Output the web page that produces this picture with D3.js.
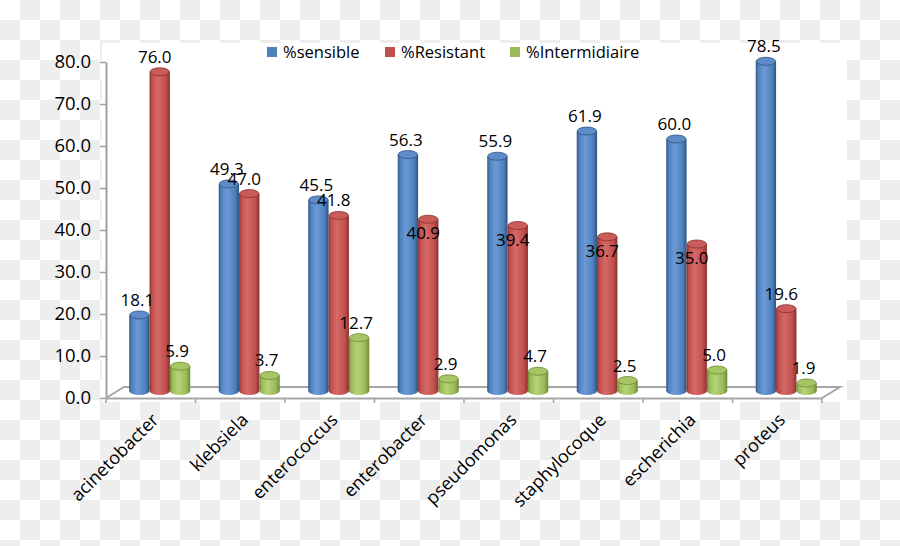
<!DOCTYPE html>
<html>
<head>
<meta charset="utf-8">
<script src="https://cdn.jsdelivr.net/npm/d3@7"></script>
<style>
  body { margin: 0; }
  svg { display: block; font-family: 'Open Sans', sans-serif; }
</style>
</head>
<body>
<svg id="chart" width="900" height="546"></svg>
<script>
const categories = ['acinetobacter', 'klebsiela', 'enterococcus', 'enterobacter', 'pseudomonas', 'staphylocoque', 'escherichia', 'proteus'];
const seriesNames = ['%sensible', '%Resistant', '%Intermidiaire'];
const sensible = [18.1, 49.3, 45.5, 56.3, 55.9, 61.9, 60.0, 78.5];
const resistant = [76.0, 47.0, 41.8, 40.9, 39.4, 36.7, 35.0, 19.6];
const intermediaire = [5.9, 3.7, 12.7, 2.9, 4.7, 2.5, 5.0, 1.9];
const yTicks = [0, 10, 20, 30, 40, 50, 60, 70, 80];

// the reference drops a few %Resistant labels onto the bar itself
const resistantLabelDrop = [0, 0, 0, 29, 29, 29, 29, 0];
const labelShiftX = [-2, -5, -3];

const colors = [
    { base: '#4f81bd', dark: '#2f5383', light: '#6c9ad6', top: '#5d8cc8' },
    { base: '#c0504d', dark: '#8c302e', light: '#d66a67', top: '#c95c59' },
    { base: '#9bbb59', dark: '#6d8a34', light: '#b4d477', top: '#a6c664' }
];

const svg = d3.select('#chart');

// checkerboard background
const defs = svg.append('defs');
const pat = defs.append('pattern')
    .attr('id', 'checker')
    .attr('width', 40).attr('height', 40)
    .attr('patternUnits', 'userSpaceOnUse');
pat.append('rect').attr('width', 40).attr('height', 40).attr('fill', '#ffffff');
pat.append('rect').attr('x', 20).attr('y', 0).attr('width', 20).attr('height', 20).attr('fill', '#eeeeee');
pat.append('rect').attr('x', 0).attr('y', 20).attr('width', 20).attr('height', 20).attr('fill', '#eeeeee');
svg.append('rect').attr('width', 900).attr('height', 546).attr('fill', 'url(#checker)');

// cylinder gradients
colors.forEach((c, i) => {
    const g = defs.append('linearGradient').attr('id', 'cyl' + i)
        .attr('x1', '0%').attr('x2', '100%').attr('y1', '0%').attr('y2', '0%');
    g.append('stop').attr('offset', '0%').attr('stop-color', c.dark);
    g.append('stop').attr('offset', '12%').attr('stop-color', c.base);
    g.append('stop').attr('offset', '40%').attr('stop-color', c.light);
    g.append('stop').attr('offset', '80%').attr('stop-color', c.base);
    g.append('stop').attr('offset', '100%').attr('stop-color', c.dark);
});

// plot area
svg.append('rect')
    .attr('x', 102).attr('y', 43)
    .attr('width', 745).attr('height', 359)
    .attr('fill', '#ffffff');

const x0 = 106, x1 = 822;
const depthX = 18, depthY = -11;

const xScale = d3.scaleBand()
    .domain(categories)
    .range([x0, x1]);

const xSub = d3.scaleBand()
    .domain(seriesNames)
    .range([0, xScale.bandwidth()])
    .paddingOuter(0.7);

const yScale = d3.scaleLinear()
    .domain([0, 80])
    .range([398, 62]);

// floor
const floorColor = '#a6a6a6';
const floor = svg.append('g').attr('stroke', floorColor).attr('stroke-width', 2).attr('fill', 'none');
floor.append('path')
    .attr('d', `M${x0},${yScale(0)} L${x0 + depthX},${yScale(0) + depthY} L${x1 + depthX},${yScale(0) + depthY} L${x1},${yScale(0)}`);

// y axis
const yAxis = svg.append('g')
    .attr('transform', `translate(${x0},0)`)
    .call(d3.axisLeft(yScale).tickValues(yTicks).tickFormat(d3.format('.1f')).tickSize(6).tickSizeOuter(0).tickPadding(9));
yAxis.select('.domain').attr('stroke', '#a0a0a0').attr('stroke-width', 2);
yAxis.selectAll('.tick line').attr('stroke', '#a0a0a0').attr('stroke-width', 1.5);
yAxis.selectAll('.tick text')
    .attr('font-family', "'Open Sans', sans-serif")
    .attr('font-size', 18.5)
    .attr('fill', '#000');

// x axis
const xAxis = svg.append('g')
    .attr('transform', `translate(0,${yScale(0)})`)
    .call(d3.axisBottom(xScale).tickSize(0).tickFormat(''));
xAxis.select('.domain').attr('stroke', '#a6a6a6').attr('stroke-width', 2);
const boundaries = categories.map((c, i) => i).concat([categories.length]);
xAxis.selectAll('.bound')
    .data(boundaries)
    .enter()
    .append('line')
    .attr('x1', d => x0 + d * xScale.step())
    .attr('x2', d => x0 + d * xScale.step())
    .attr('y1', 0).attr('y2', 5)
    .attr('stroke', '#a6a6a6').attr('stroke-width', 1.5);

// bars
const barShiftX = 9, barShiftY = -7;
const rows = [];
categories.forEach((cat, i) => {
    [sensible, resistant, intermediaire].forEach((arr, s) => {
        rows.push({ cat, i, s, value: arr[i] });
    });
});

const bw = xSub.bandwidth();
const ry = 4;
const bars = svg.append('g').selectAll('.bar')
    .data(rows)
    .enter()
    .append('g')
    .attr('class', 'bar');

bars.each(function (d) {
    const g = d3.select(this);
    const left = xScale(d.cat) + xSub(seriesNames[d.s]) + barShiftX;
    const cx = left + bw / 2;
    const yb = yScale(0) + barShiftY;
    const yt = yScale(d.value) + barShiftY;
    const c = colors[d.s];
    g.append('ellipse')
        .attr('cx', cx).attr('cy', yb)
        .attr('rx', bw / 2).attr('ry', ry)
        .attr('fill', `url(#cyl${d.s})`);
    g.append('rect')
        .attr('x', left).attr('y', yt)
        .attr('width', bw).attr('height', yb - yt)
        .attr('fill', `url(#cyl${d.s})`);
    g.append('ellipse')
        .attr('cx', cx).attr('cy', yt)
        .attr('rx', bw / 2 - 0.5).attr('ry', ry)
        .attr('fill', c.top)
        .attr('stroke', c.dark).attr('stroke-width', 0.8);
});

// data labels
svg.append('g').selectAll('.label')
    .data(rows)
    .enter()
    .append('text')
    .attr('class', 'label')
    .attr('x', d => xScale(d.cat) + xSub(seriesNames[d.s]) + barShiftX + bw / 2 + labelShiftX[d.s])
    .attr('y', d => yScale(d.value) + barShiftY - 9 + (d.s === 1 ? resistantLabelDrop[d.i] : 0))
    .attr('text-anchor', 'middle')
    .attr('font-size', 17)
    .attr('fill', '#000')
    .text(d => d3.format('.1f')(d.value));

// category labels
svg.append('g').selectAll('.cat')
    .data(categories)
    .enter()
    .append('text')
    .attr('class', 'cat')
    .attr('transform', d => `translate(${xScale(d) + xScale.bandwidth() / 2 + 9},${421}) rotate(-45)`)
    .attr('text-anchor', 'end')
    .attr('font-size', 18)
    .attr('fill', '#000')
    .text(d => d);

// legend
const legendX = [267, 385, 510];
const legend = svg.append('g').selectAll('.legend')
    .data(seriesNames)
    .enter()
    .append('g')
    .attr('class', 'legend')
    .attr('transform', (d, i) => `translate(${legendX[i]},47)`);
legend.append('rect')
    .attr('width', 10).attr('height', 10)
    .attr('fill', (d, i) => colors[i].base);
legend.append('text')
    .attr('x', 16).attr('y', 10.5)
    .attr('font-size', 16.5)
    .attr('fill', '#000')
    .text(d => d);
</script>
</body>
</html>
